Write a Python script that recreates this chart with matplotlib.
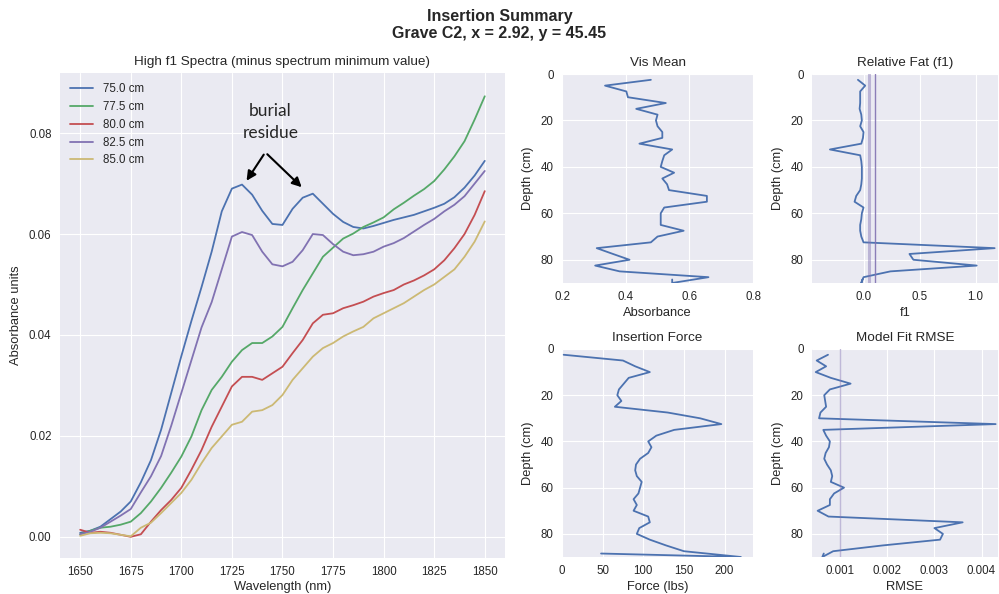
import matplotlib
matplotlib.use("Agg")
import matplotlib.pyplot as plt

plt.style.use("seaborn-v0_8-darkgrid")
plt.rcParams["font.family"] = "sans-serif"
plt.rcParams["font.sans-serif"] = ["Liberation Sans", "DejaVu Sans"]

# spectra (minus minimum), sampled every 5 nm
wavelength = list(range(1650, 1851, 5))
spec_labels = ["75.0 cm", "77.5 cm", "80.0 cm", "82.5 cm", "85.0 cm"]
spec_colors = ["#4C72B0", "#55A868", "#C44E52", "#8172B2", "#CCB974"]
spec_75 = [0.0008, 0.0012, 0.0020, 0.0035, 0.0050, 0.0070, 0.0108, 0.0152, 0.0212, 0.0285,
           0.0358, 0.0428, 0.0495, 0.0565, 0.0645, 0.0690, 0.0698, 0.0678, 0.0646, 0.0620,
           0.0618, 0.0650, 0.0672, 0.0680, 0.0660, 0.0640, 0.0624, 0.0614, 0.0611, 0.0616,
           0.0622, 0.0628, 0.0633, 0.0638, 0.0645, 0.0652, 0.0660, 0.0673, 0.0692, 0.0716,
           0.0745]
spec_775 = [0.0005, 0.0012, 0.0018, 0.0020, 0.0024, 0.0030, 0.0047, 0.0070, 0.0097, 0.0127,
            0.0159, 0.0199, 0.0251, 0.0291, 0.0317, 0.0347, 0.0370, 0.0384, 0.0384, 0.0397,
            0.0416, 0.0453, 0.0489, 0.0522, 0.0555, 0.0573, 0.0591, 0.0601, 0.0614, 0.0623,
            0.0633, 0.0649, 0.0662, 0.0676, 0.0689, 0.0705, 0.0728, 0.0754, 0.0784, 0.0827,
            0.0873]
spec_80 = [0.0014, 0.0008, 0.0010, 0.0008, 0.0004, 0.0000, 0.0005, 0.0030, 0.0053, 0.0073,
           0.0097, 0.0133, 0.0172, 0.0218, 0.0258, 0.0298, 0.0317, 0.0317, 0.0311, 0.0324,
           0.0337, 0.0364, 0.0390, 0.0423, 0.0440, 0.0443, 0.0453, 0.0459, 0.0466, 0.0476,
           0.0483, 0.0489, 0.0500, 0.0508, 0.0518, 0.0530, 0.0548, 0.0572, 0.0600, 0.0638,
           0.0685]
spec_825 = [0.0005, 0.0010, 0.0018, 0.0030, 0.0042, 0.0055, 0.0088, 0.0120, 0.0160, 0.0220,
            0.0285, 0.0350, 0.0415, 0.0465, 0.0530, 0.0595, 0.0604, 0.0598, 0.0565, 0.0540,
            0.0536, 0.0545, 0.0568, 0.0600, 0.0598, 0.0580, 0.0565, 0.0558, 0.0560, 0.0565,
            0.0575, 0.0582, 0.0592, 0.0605, 0.0618, 0.0630, 0.0645, 0.0658, 0.0675, 0.0700,
            0.0725]
spec_85 = [0.0002, 0.0007, 0.0008, 0.0007, 0.0004, 0.0001, 0.0018, 0.0028, 0.0047, 0.0067,
           0.0087, 0.0113, 0.0146, 0.0176, 0.0199, 0.0222, 0.0228, 0.0248, 0.0251, 0.0261,
           0.0281, 0.0311, 0.0334, 0.0357, 0.0374, 0.0384, 0.0397, 0.0407, 0.0416, 0.0433,
           0.0443, 0.0453, 0.0463, 0.0476, 0.0489, 0.0500, 0.0515, 0.0530, 0.0555, 0.0585,
           0.0625]

# depth profiles (last sample recorded out of order)
depth = [2.5, 5.0, 7.5, 10.0, 12.5, 15.0, 17.5, 20.0, 22.5, 25.0, 27.5, 30.0, 32.5, 35.0,
         37.5, 40.0, 42.5, 45.0, 47.5, 50.0, 52.5, 55.0, 57.5, 60.0, 62.5, 65.0, 67.5, 70.0,
         72.5, 75.0, 77.5, 80.0, 82.5, 85.0, 87.5, 90.0, 88.5]
vis_mean = [0.479, 0.335, 0.402, 0.407, 0.526, 0.433, 0.500, 0.495, 0.500, 0.515, 0.515, 0.443,
            0.546, 0.521, 0.515, 0.510, 0.552, 0.515, 0.530, 0.536, 0.655, 0.655, 0.521, 0.510,
            0.510, 0.510, 0.582, 0.500, 0.479, 0.309, 0.360, 0.412, 0.304, 0.381, 0.660, 0.546,
            0.546]
rel_fat = [-0.05, 0.015, -0.03, -0.03, -0.03, -0.035, -0.02, -0.015, -0.03, 0.0, -0.005, -0.02,
           -0.30, -0.03, -0.02, -0.015, -0.015, -0.015, -0.02, -0.03, -0.065, -0.08, 0.0, -0.015,
           -0.02, -0.03, -0.03, -0.02, 0.0, 1.17, 0.41, 0.445, 1.01, 0.24, 0.0, -0.02, -0.01]
force = [2, 75, 90, 108, 82, 76, 70, 68, 73, 65, 130, 170, 196, 138, 116, 106, 110, 106, 96, 91,
         90, 92, 98, 96, 94, 88, 92, 88, 106, 108, 95, 92, 108, 128, 150, 220, 48]
rmse = [0.00074, 0.00050, 0.00070, 0.00048, 0.00080, 0.00122, 0.00078, 0.00066, 0.00068,
        0.00070, 0.00058, 0.00055, 0.00430, 0.00064, 0.00070, 0.00078, 0.00076, 0.00069,
        0.00066, 0.00072, 0.00080, 0.00083, 0.00080, 0.00108, 0.00087, 0.00078, 0.00078,
        0.00052, 0.00075, 0.00360, 0.00300, 0.00318, 0.00312, 0.00190, 0.00085, 0.00062,
        0.00065]
fat_thresholds = [0.05, 0.1]
rmse_threshold = 0.001

TICK = 8.3
LABEL = 9.3
TITLE = 9.7
line_color = "#4C72B0"
ref_color = "#8172B2"

fig = plt.figure(figsize=(9.99, 5.94), dpi=100)
fig.suptitle("Insertion Summary\nGrave C2, x = 2.92, y = 45.45", fontsize=11.5,
             fontweight="bold", y=0.985, linespacing=1.15)

# main spectra panel
ax = fig.add_axes([0.060, 0.0606, 0.4455, 0.8164])
for series, label, color in zip([spec_75, spec_775, spec_80, spec_825, spec_85],
                                spec_labels, spec_colors):
    ax.plot(wavelength, series, lw=1.3, color=color, label=label)
ax.set_xlim(1640, 1860)
ax.set_ylim(-0.0042, 0.0919)
ax.set_xticks(range(1650, 1851, 25))
ax.set_yticks([0.0, 0.02, 0.04, 0.06, 0.08])
ax.set_yticklabels(["0.00", "0.02", "0.04", "0.06", "0.08"])
ax.tick_params(labelsize=TICK, pad=6)
ax.set_xlabel("Wavelength (nm)", fontsize=LABEL, labelpad=2)
ax.set_ylabel("Absorbance units", fontsize=LABEL, labelpad=5)
ax.set_title("High f1 Spectra (minus spectrum minimum value)", fontsize=TITLE, pad=6)
ax.legend(loc="upper left", fontsize=8.3, frameon=False)

ax.text(1744, 0.0822, "burial\nresidue", ha="center", va="center", fontsize=12.5,
        family=["Lato", "DejaVu Sans"], linespacing=1.45)
for target in [(1731.5, 0.0701), (1760.5, 0.0689)]:
    ax.annotate("", xy=target, xytext=(1741.5, 0.0762),
                arrowprops=dict(arrowstyle="-|>", color="black", lw=1.5, mutation_scale=14))


def depth_panel(rect, values, title, xlabel, xlim, xticks, xticklabels=None):
    a = fig.add_axes(rect)
    a.plot(values, depth, color=line_color, lw=1.3)
    a.set_ylim(90, 0)
    a.set_yticks([0, 20, 40, 60, 80])
    a.set_xlim(*xlim)
    a.set_xticks(xticks)
    if xticklabels is not None:
        a.set_xticklabels(xticklabels)
    a.tick_params(labelsize=TICK, pad=6)
    a.set_title(title, fontsize=TITLE, pad=6)
    a.set_xlabel(xlabel, fontsize=LABEL, labelpad=3)
    a.set_ylabel("Depth (cm)", fontsize=LABEL, labelpad=5)
    return a


depth_panel([0.5626, 0.5236, 0.1912, 0.3518], vis_mean, "Vis Mean", "Absorbance",
            (0.2, 0.8), [0.2, 0.4, 0.6, 0.8])
ax_fat = depth_panel([0.8128, 0.5236, 0.1862, 0.3518], rel_fat, "Relative Fat (f1)", "f1",
                     (-0.46, 1.2), [0.0, 0.5, 1.0])
ax_fat.axvline(fat_thresholds[0], color=ref_color, alpha=0.45, lw=2.2)
ax_fat.axvline(fat_thresholds[1], color=ref_color, alpha=0.9, lw=1.0)

depth_panel([0.5626, 0.0623, 0.1912, 0.3502], force, "Insertion Force", "Force (lbs)",
            (0, 235), [0, 50, 100, 150, 200])
ax_rmse = depth_panel([0.8128, 0.0623, 0.1862, 0.3502], rmse, "Model Fit RMSE", "RMSE",
                      (0.0004, 0.00435), [0.001, 0.002, 0.003, 0.004],
                      ["0.001", "0.002", "0.003", "0.004"])
ax_rmse.axvline(rmse_threshold, color=ref_color, alpha=0.5, lw=1.0)

fig.savefig("out.png", dpi=100)
